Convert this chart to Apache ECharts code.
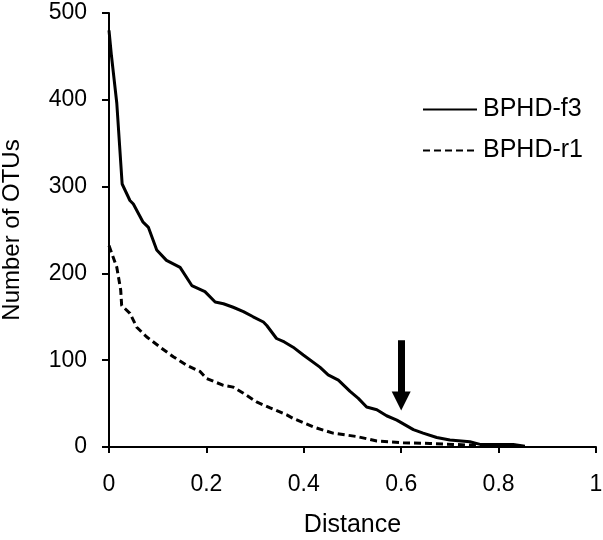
<!DOCTYPE html>
<html>
<head>
<meta charset="utf-8">
<script src="https://cdn.jsdelivr.net/npm/echarts@6/dist/echarts.min.js"></script>
<style>html,body{margin:0;padding:0;background:#fff}#c{width:603px;height:540px}</style>
</head>
<body>
<div id="c"></div>
<script>
var seriesNames = ['BPHD-f3', 'BPHD-r1'];
var f3Dist = [0, 0.005, 0.016, 0.027, 0.043, 0.05, 0.07, 0.081, 0.098, 0.118, 0.146, 0.17, 0.197, 0.218, 0.235, 0.255, 0.276, 0.296, 0.317, 0.324, 0.344, 0.36, 0.378, 0.399, 0.433, 0.45, 0.471, 0.495, 0.512, 0.529, 0.55, 0.57, 0.591, 0.625, 0.645, 0.673, 0.70, 0.741, 0.762, 0.83, 0.854];
var f3Otus = [480, 451, 396, 303, 284, 280, 259, 253, 227, 215, 207, 186, 179, 167, 165, 161, 156, 150, 144, 140, 125, 121, 115, 106, 92, 83, 77, 64, 56, 46, 43, 36, 31, 20, 16, 11, 8, 6, 3, 3, 1];
var r1Dist = [0, 0.016, 0.024, 0.026, 0.043, 0.057, 0.077, 0.105, 0.132, 0.16, 0.187, 0.2, 0.235, 0.255, 0.276, 0.303, 0.331, 0.365, 0.378, 0.42, 0.46, 0.509, 0.55, 0.604, 0.659, 0.707, 0.748, 0.76];
var r1Otus = [232, 207, 181, 163, 154, 138, 127, 115, 104, 94, 87, 79, 71, 69, 62, 52, 45, 37, 33, 23, 16, 12, 7, 5, 4, 3, 2, 2];
var xTicks = [0, 0.2, 0.4, 0.6, 0.8, 1];
var yTicks = [0, 100, 200, 300, 400, 500];
var arrowDist = 0.6, arrowFrom = 123, arrowTo = 53;

function pairs(xs, ys) { return xs.map(function (x, i) { return [x, ys[i]]; }); }

var FONT = 'Liberation Sans';
var chart = echarts.init(document.getElementById('c'));
chart.setOption({
  animation: false,
  backgroundColor: '#fff',
  textStyle: { fontFamily: FONT, color: '#000' },
  grid: { left: 109, right: 7, top: 13, bottom: 93, containLabel: false, outerBoundsMode: 'none' },
  legend: {
    orient: 'vertical',
    left: 417, top: 92,
    itemWidth: 54, itemHeight: 14, itemGap: 16,
    itemStyle: { opacity: 0 },
    textStyle: { fontFamily: FONT, fontSize: 25, color: '#000', padding: [0, 0, 0, 1] },
    data: seriesNames
  },
  xAxis: {
    type: 'value', min: xTicks[0], max: xTicks[xTicks.length - 1], interval: 0.2,
    name: 'Distance', nameLocation: 'middle', nameGap: 66,
    nameTextStyle: { fontFamily: FONT, fontSize: 25, color: '#000' },
    axisLine: { lineStyle: { color: '#000', width: 2 } },
    axisTick: { show: true, length: 6, lineStyle: { color: '#000', width: 2 } },
    axisLabel: { fontFamily: FONT, fontSize: 23, color: '#000', margin: 26, showMaxLabel: true },
    splitLine: { show: false }
  },
  yAxis: {
    type: 'value', min: yTicks[0], max: yTicks[yTicks.length - 1], interval: 100,
    name: 'Number of OTUs', nameLocation: 'middle', nameGap: 85,
    nameTextStyle: { fontFamily: FONT, fontSize: 24, color: '#000' },
    axisLine: { show: true, lineStyle: { color: '#000', width: 2 } },
    axisTick: { show: true, length: 7, lineStyle: { color: '#000', width: 2 } },
    axisLabel: { fontFamily: FONT, fontSize: 23, color: '#000', margin: 22 },
    splitLine: { show: false }
  },
  series: [
    {
      name: seriesNames[0], type: 'line', symbol: 'none', showSymbol: false,
      data: pairs(f3Dist, f3Otus),
      lineStyle: { color: '#000', width: 3 },
      itemStyle: { color: '#000' },
      markLine: {
        silent: true, animation: false,
        symbol: ['none', 'triangle'], symbolSize: [19, 19],
        label: { show: false },
        lineStyle: { color: '#000', width: 7, type: 'solid' },
        data: [[{ coord: [arrowDist, arrowFrom] }, { coord: [arrowDist, arrowTo] }]]
      }
    },
    {
      name: seriesNames[1], type: 'line', symbol: 'none', showSymbol: false,
      data: pairs(r1Dist, r1Otus),
      lineStyle: { color: '#000', width: 3, type: [7, 4] },
      itemStyle: { color: '#000' }
    }
  ]
});
</script>
</body>
</html>
